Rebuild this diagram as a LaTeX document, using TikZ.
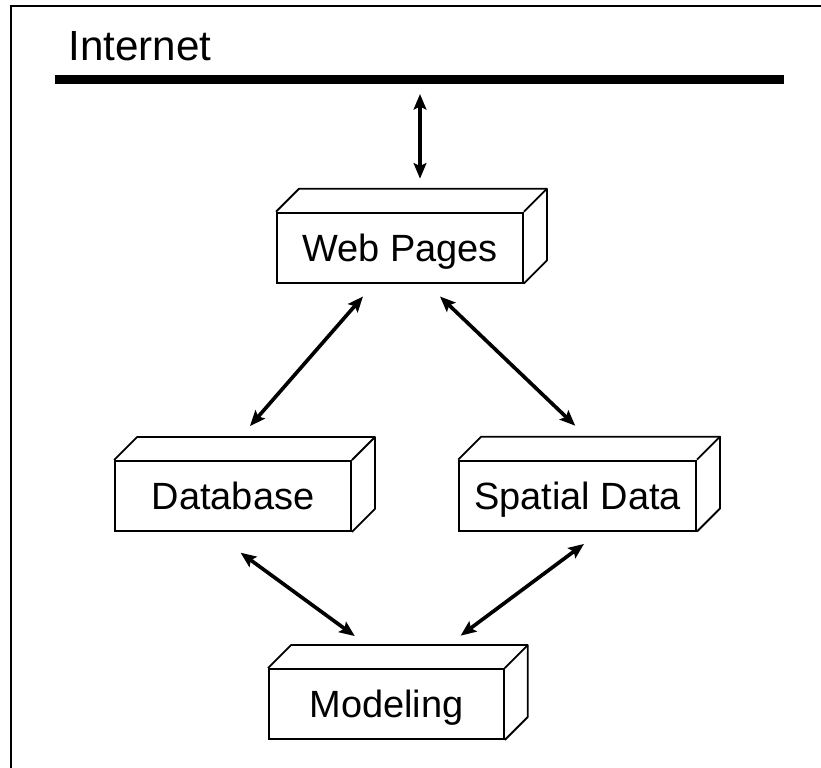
\documentclass[tikz,border=0pt]{standalone}
\usepackage{fontspec}
\setmainfont{Liberation Sans}
\usepackage{tikz}
\usetikzlibrary{arrows.meta}

\tikzset{
  block/.style={draw, line width=1.3pt, fill=white, minimum height=1.75cm, inner sep=0pt,
    text height=19.5pt, text depth=0pt, font=\fontsize{27}{32}\selectfont},
  face/.style={line width=1.3pt, line join=round},
  link/.style={line width=2.6pt, {Stealth[length=11pt,width=9pt,inset=2pt]}-{Stealth[length=11pt,width=9pt,inset=2pt]}}
}

\begin{document}
\begin{tikzpicture}
\useasboundingbox (0,0) rectangle (20.525,19.2);

% Frame (cut off at the right and bottom)
\draw[line width=1.6pt] (20.525,19.05) -- (0.275,19.05) -- (0.275,0);

% Internet
\node[anchor=base west, inner sep=0pt, font=\fontsize{30}{36}\selectfont] (title) at (1.7,17.675) {Internet};
\coordinate (netL) at (1.375,17.21);
\coordinate (netR) at (19.6,17.21);
\coordinate (net) at (10.5,17.21);
\draw[line width=0.225cm] (netL) -- (netR);

% Boxes
\node[block, minimum width=6.15cm] (web) at (10.0,13.01) {Web Pages};
\draw[face] (web.north west) -- ++(0.575,0.575) -- ([shift={(0.575,0.575)}]web.north east) -- ([shift={(0.575,0.575)}]web.south east) -- (web.south east);
\draw[face] (web.north east) -- ++(0.575,0.575);

\node[block, minimum width=5.9cm] (db) at (5.825,6.8) {Database};
\draw[face] (db.north west) -- ++(0.575,0.575) -- ([shift={(0.575,0.575)}]db.north east) -- ([shift={(0.575,0.575)}]db.south east) -- (db.south east);
\draw[face] (db.north east) -- ++(0.575,0.575);

\node[block, minimum width=5.925cm] (spatial) at (14.44,6.81) {Spatial Data};
\draw[face] (spatial.north west) -- ++(0.575,0.575) -- ([shift={(0.575,0.575)}]spatial.north east) -- ([shift={(0.575,0.575)}]spatial.south east) -- (spatial.south east);
\draw[face] (spatial.north east) -- ++(0.575,0.575);

\node[block, minimum width=5.875cm] (model) at (9.66,1.6) {Modeling};
\draw[face] (model.north west) -- ++(0.575,0.575) -- ([shift={(0.575,0.575)}]model.north east) -- ([shift={(0.575,0.575)}]model.south east) -- (model.south east);
\draw[face] (model.north east) -- ++(0.575,0.575);

% Arrows
\draw[link] ([yshift=-0.36cm]net) -- ([shift={(0.5,0.825)}]web.north);
\draw[link] ([shift={(-0.925,-0.325)}]web.south) -- ([shift={(0.425,0.85)}]db.north);
\draw[link] ([shift={(1.0,-0.325)}]web.south) -- ([shift={(-0.06,0.85)}]spatial.north);
\draw[link] ([shift={(0.19,-0.52)}]db.south) -- ([shift={(-0.79,0.8)}]model.north);
\draw[link] ([shift={(0.16,-0.31)}]spatial.south) -- ([shift={(1.855,0.81)}]model.north);
\end{tikzpicture}
\end{document}
